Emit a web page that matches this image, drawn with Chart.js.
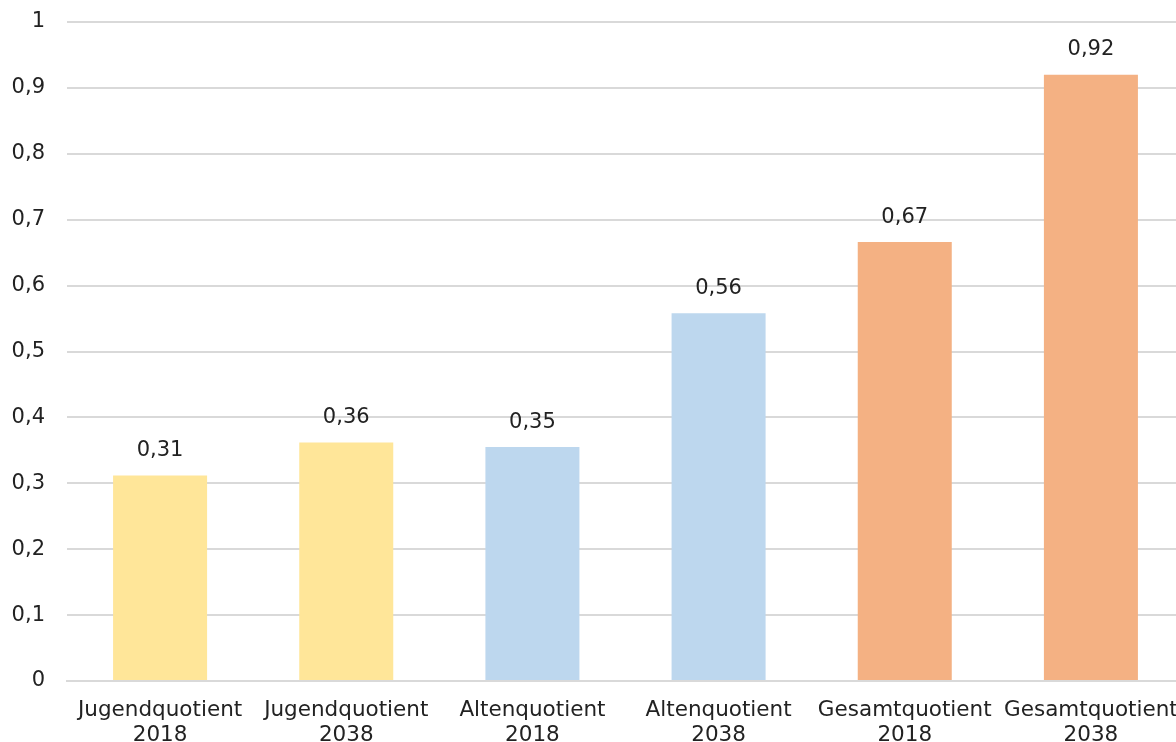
<!DOCTYPE html>
<html><head><meta charset="utf-8">
<script src="https://cdn.jsdelivr.net/npm/chart.js@4"></script>
<style>html,body{margin:0;padding:0;overflow:hidden;background:#fff}#wrap{width:1184px;height:742px}</style>
</head><body><div id="wrap"><canvas id="c" width="1184" height="742"></canvas></div>
<script>
const categories = [["Jugendquotient","2018"],["Jugendquotient","2038"],["Altenquotient","2018"],["Altenquotient","2038"],["Gesamtquotient","2018"],["Gesamtquotient","2038"]];
const values = [0.312, 0.362, 0.355, 0.558, 0.666, 0.920];
const valueLabels = ["0,31","0,36","0,35","0,56","0,67","0,92"];
const barColors = ["#FFE699","#FFE699","#BDD7EE","#BDD7EE","#F4B183","#F4B183"];
const FONT = "'DejaVu Sans', sans-serif";

const labelPlugin = {
  id: 'vlabels',
  afterDatasetsDraw(chart) {
    const ctx = chart.ctx;
    const meta = chart.getDatasetMeta(0);
    ctx.save();
    ctx.font = "21px " + FONT;
    ctx.fillStyle = "#222";
    ctx.textAlign = "center";
    ctx.textBaseline = "middle";
    meta.data.forEach((bar, i) => {
      ctx.fillText(valueLabels[i], bar.x, bar.y - 25);
    });
    ctx.restore();
  }
};

new Chart(document.getElementById('c'), {
  type: 'bar',
  data: { labels: categories, datasets: [{ data: values, backgroundColor: barColors, categoryPercentage: 1, barPercentage: 0.505 }] },
  options: {
    responsive: false, animation: false,
    layout: { padding: { top: 22, right: 0, bottom: 0, left: 0 } },
    plugins: { legend: { display: false }, tooltip: { enabled: false } },
    scales: {
      y: {
        min: 0, max: 1,
        ticks: { stepSize: 0.1, padding: 22, color: "#222", font: { family: FONT, size: 21 },
          callback: v => (Math.round(v*10)/10).toString().replace('.', ',') },
        grid: { color: "#D9D9D9", lineWidth: 2, drawTicks: false },
        border: { display: false },
        afterFit: s => { s.width = 67; s.paddingTop = 0; s.paddingBottom = 0; }
      },
      x: {
        ticks: { padding: 17, color: "#222", font: { family: FONT, size: 21.5, lineHeight: 1.15 }, maxRotation: 0, autoSkip: false },
        grid: { display: false, drawTicks: false },
        border: { display: true, color: "#D9D9D9", width: 2 },
        afterFit: s => { s.height = 61; s.paddingLeft = 0; s.paddingRight = 0; }
      }
    }
  },
  plugins: [labelPlugin]
});
</script></body></html>
